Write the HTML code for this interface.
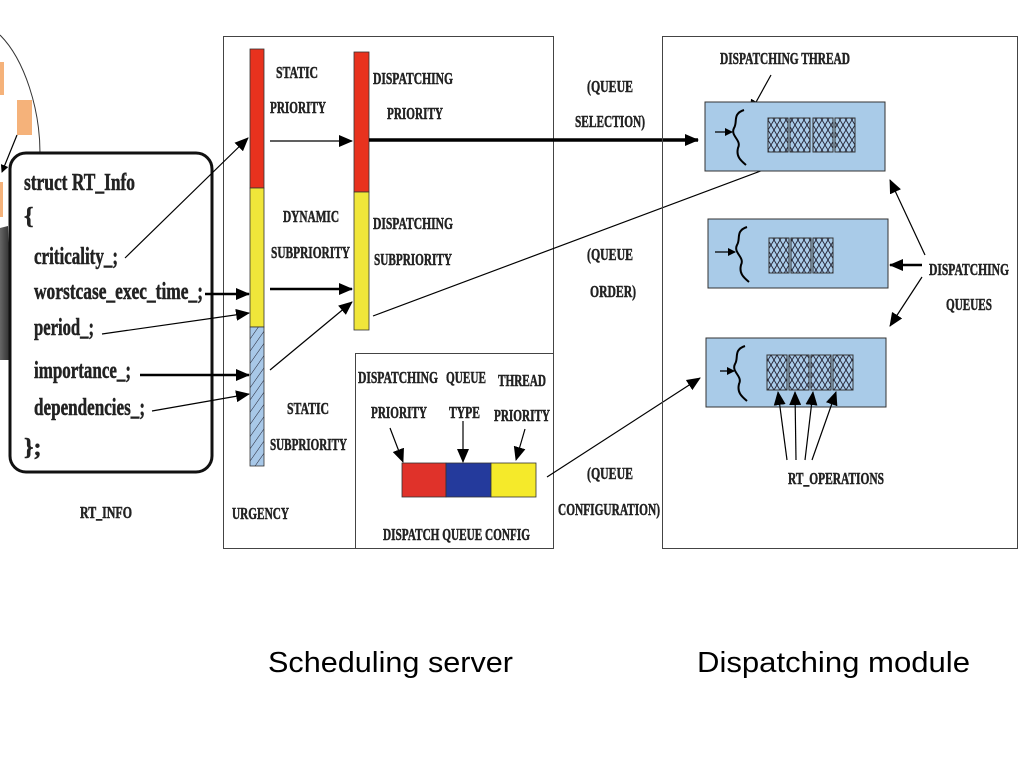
<!DOCTYPE html>
<html><head><meta charset="utf-8"><style>
html,body{margin:0;padding:0;background:#fff;}
svg{display:block;}
.t{font-family:"Liberation Serif",serif;font-weight:bold;fill:#222;stroke:#222;stroke-width:0.5;}
</style></head><body>
<svg width="1024" height="768" viewBox="0 0 1024 768" xmlns="http://www.w3.org/2000/svg">
<defs>
<marker id="a" markerWidth="8" markerHeight="8" refX="7" refY="4" orient="auto" markerUnits="userSpaceOnUse">
<path d="M0,0 L8,4 L0,8 z" fill="#000"/></marker>
<marker id="A" markerWidth="14" markerHeight="12" refX="13" refY="6" orient="auto" markerUnits="userSpaceOnUse">
<path d="M0,0 L14,6 L0,12 z" fill="#000"/></marker>
<pattern id="diag" width="7" height="7" patternUnits="userSpaceOnUse" patternTransform="rotate(35)">
<rect width="7" height="7" fill="#a8c8e8"/><line x1="0" y1="0" x2="0" y2="7" stroke="#223" stroke-width="1"/></pattern>
<pattern id="cross" width="6" height="10" patternUnits="userSpaceOnUse">
<rect width="6" height="10" fill="#a9cbe8"/><path d="M0,0 L6,10 M6,0 L0,10" stroke="#223" stroke-width="0.9"/></pattern>
<linearGradient id="g" x1="0" x2="1"><stop offset="0" stop-color="#666"/><stop offset="1" stop-color="#222"/></linearGradient>
</defs>

<path d="M0,35 C25,60 40,110 40,153" fill="none" stroke="#333" stroke-width="1"/>
<rect x="0" y="62" width="4" height="33" fill="#f5b27a"/>
<rect x="17" y="100" width="15" height="35" fill="#f5b27a"/>
<rect x="0" y="182" width="3" height="35" fill="#f5b27a"/>
<path d="M0,228 L8,226 L12,360 L0,360 z" fill="url(#g)"/>
<line x1="17" y1="135" x2="2" y2="172" stroke="#000" stroke-width="1.2" marker-end="url(#a)"/>

<rect x="10" y="153" width="202" height="319" rx="16" fill="#fff" stroke="#111" stroke-width="3"/>
<text class="t" x="24" y="190" font-size="24" textLength="111" lengthAdjust="spacingAndGlyphs">struct RT_Info</text>
<text class="t" x="24" y="224" font-size="24">{</text>
<text class="t" x="34" y="264" font-size="24" textLength="84" lengthAdjust="spacingAndGlyphs">criticality_;</text>
<text class="t" x="34" y="299" font-size="24" textLength="169" lengthAdjust="spacingAndGlyphs">worstcase_exec_time_;</text>
<text class="t" x="34" y="335" font-size="24" textLength="60" lengthAdjust="spacingAndGlyphs">period_;</text>
<text class="t" x="34" y="378" font-size="24" textLength="97" lengthAdjust="spacingAndGlyphs">importance_;</text>
<text class="t" x="34" y="415" font-size="24" textLength="111" lengthAdjust="spacingAndGlyphs">dependencies_;</text>
<text class="t" x="24" y="455" font-size="24">};</text>
<text class="t" x="80" y="518" font-size="17" textLength="52" lengthAdjust="spacingAndGlyphs">RT_INFO</text>

<rect x="223.5" y="36.5" width="330" height="512" fill="none" stroke="#444" stroke-width="1"/>
<rect x="355.5" y="353.5" width="198" height="195" fill="none" stroke="#444" stroke-width="1"/>
<rect x="250" y="49" width="14" height="139" fill="#e8321e" stroke="#333" stroke-width="0.8"/>
<rect x="250" y="188" width="14" height="139" fill="#f0e63a" stroke="#333" stroke-width="0.8"/>
<rect x="250" y="327" width="14" height="139" fill="url(#diag)" stroke="#333" stroke-width="0.8"/>
<rect x="354" y="52" width="15" height="140" fill="#e8321e" stroke="#333" stroke-width="0.8"/>
<rect x="354" y="192" width="15" height="138" fill="#f0e63a" stroke="#333" stroke-width="0.8"/>

<text class="t" x="276" y="78" font-size="17" textLength="42" lengthAdjust="spacingAndGlyphs">STATIC</text>
<text class="t" x="270" y="113" font-size="17" textLength="56" lengthAdjust="spacingAndGlyphs">PRIORITY</text>
<text class="t" x="373" y="84" font-size="17" textLength="80" lengthAdjust="spacingAndGlyphs">DISPATCHING</text>
<text class="t" x="387" y="119" font-size="17" textLength="56" lengthAdjust="spacingAndGlyphs">PRIORITY</text>
<text class="t" x="283" y="222" font-size="17" textLength="56" lengthAdjust="spacingAndGlyphs">DYNAMIC</text>
<text class="t" x="271" y="258" font-size="17" textLength="79" lengthAdjust="spacingAndGlyphs">SUBPRIORITY</text>
<text class="t" x="373" y="229" font-size="17" textLength="80" lengthAdjust="spacingAndGlyphs">DISPATCHING</text>
<text class="t" x="374" y="265" font-size="17" textLength="78" lengthAdjust="spacingAndGlyphs">SUBPRIORITY</text>
<text class="t" x="287" y="414" font-size="17" textLength="42" lengthAdjust="spacingAndGlyphs">STATIC</text>
<text class="t" x="270" y="450" font-size="17" textLength="77" lengthAdjust="spacingAndGlyphs">SUBPRIORITY</text>
<text class="t" x="232" y="519" font-size="17" textLength="57" lengthAdjust="spacingAndGlyphs">URGENCY</text>

<line x1="125" y1="258" x2="248" y2="138" stroke="#000" stroke-width="1.2" marker-end="url(#A)"/>
<line x1="205" y1="294" x2="249" y2="294" stroke="#000" stroke-width="2.5" marker-end="url(#A)"/>
<line x1="102" y1="334" x2="249" y2="313" stroke="#000" stroke-width="1.2" marker-end="url(#A)"/>
<line x1="140" y1="375" x2="249" y2="375" stroke="#000" stroke-width="2.5" marker-end="url(#A)"/>
<line x1="152" y1="411" x2="249" y2="394" stroke="#000" stroke-width="1.2" marker-end="url(#A)"/>
<line x1="270" y1="141" x2="352" y2="141" stroke="#000" stroke-width="1.3" marker-end="url(#A)"/>
<line x1="270" y1="289" x2="352" y2="289" stroke="#000" stroke-width="2.5" marker-end="url(#A)"/>
<line x1="270" y1="370" x2="352" y2="302" stroke="#000" stroke-width="1.2" marker-end="url(#A)"/>
<line x1="369" y1="140" x2="698" y2="140" stroke="#000" stroke-width="3.5" marker-end="url(#A)"/>
<line x1="373" y1="316" x2="790" y2="160" stroke="#000" stroke-width="1.2" marker-end="url(#A)"/>

<text class="t" x="587" y="92" font-size="17" textLength="46" lengthAdjust="spacingAndGlyphs">(QUEUE</text>
<text class="t" x="575" y="127" font-size="17" textLength="70" lengthAdjust="spacingAndGlyphs">SELECTION)</text>
<text class="t" x="587" y="260" font-size="17" textLength="46" lengthAdjust="spacingAndGlyphs">(QUEUE</text>
<text class="t" x="590" y="297" font-size="17" textLength="46" lengthAdjust="spacingAndGlyphs">ORDER)</text>
<text class="t" x="587" y="479" font-size="17" textLength="46" lengthAdjust="spacingAndGlyphs">(QUEUE</text>
<text class="t" x="558" y="515" font-size="17" textLength="102" lengthAdjust="spacingAndGlyphs">CONFIGURATION)</text>

<text class="t" x="358" y="383" font-size="17" textLength="80" lengthAdjust="spacingAndGlyphs">DISPATCHING</text>
<text class="t" x="371" y="418" font-size="17" textLength="56" lengthAdjust="spacingAndGlyphs">PRIORITY</text>
<text class="t" x="446" y="383" font-size="17" textLength="40" lengthAdjust="spacingAndGlyphs">QUEUE</text>
<text class="t" x="449" y="418" font-size="17" textLength="31" lengthAdjust="spacingAndGlyphs">TYPE</text>
<text class="t" x="498" y="386" font-size="17" textLength="48" lengthAdjust="spacingAndGlyphs">THREAD</text>
<text class="t" x="494" y="421" font-size="17" textLength="56" lengthAdjust="spacingAndGlyphs">PRIORITY</text>
<rect x="402" y="463" width="44" height="34" fill="#e0322a" stroke="#333" stroke-width="0.8"/>
<rect x="446" y="463" width="45" height="34" fill="#243a9c" stroke="#333" stroke-width="0.8"/>
<rect x="491" y="463" width="45" height="34" fill="#f5ea2a" stroke="#333" stroke-width="0.8"/>
<line x1="390" y1="428" x2="403" y2="462" stroke="#000" stroke-width="1.2" marker-end="url(#A)"/>
<line x1="463" y1="421" x2="463" y2="462" stroke="#000" stroke-width="1.2" marker-end="url(#A)"/>
<line x1="525" y1="429" x2="516" y2="460" stroke="#000" stroke-width="1.2" marker-end="url(#A)"/>
<text class="t" x="383" y="540" font-size="17" textLength="147" lengthAdjust="spacingAndGlyphs">DISPATCH QUEUE CONFIG</text>
<line x1="547" y1="477" x2="700" y2="378" stroke="#000" stroke-width="1.2" marker-end="url(#A)"/>

<rect x="662.5" y="36.5" width="355" height="512" fill="none" stroke="#444" stroke-width="1"/>
<text class="t" x="720" y="64" font-size="17" textLength="130" lengthAdjust="spacingAndGlyphs">DISPATCHING THREAD</text>
<line x1="771" y1="75" x2="750" y2="113" stroke="#000" stroke-width="1.2" marker-end="url(#A)"/>

<g stroke="#333" stroke-width="1">
<rect x="705" y="102" width="180" height="69" fill="#a9cbe8"/>
<rect x="708" y="219" width="180" height="69" fill="#a9cbe8"/>
<rect x="706" y="338" width="180" height="69" fill="#a9cbe8"/>
<rect x="768" y="118" width="20" height="34" fill="url(#cross)"/>
<rect x="790" y="118" width="20" height="34" fill="url(#cross)"/>
<rect x="813" y="118" width="20" height="34" fill="url(#cross)"/>
<rect x="835" y="118" width="20" height="34" fill="url(#cross)"/>
<rect x="769" y="238" width="20" height="35" fill="url(#cross)"/>
<rect x="791" y="238" width="20" height="35" fill="url(#cross)"/>
<rect x="813" y="238" width="20" height="35" fill="url(#cross)"/>
<rect x="767" y="355" width="20" height="35" fill="url(#cross)"/>
<rect x="789" y="355" width="20" height="35" fill="url(#cross)"/>
<rect x="811" y="355" width="20" height="35" fill="url(#cross)"/>
<rect x="833" y="355" width="20" height="35" fill="url(#cross)"/>
</g>
<g fill="none" stroke="#000" stroke-width="2">
<path d="M744,110 C732,114 738,122 734,128 C730,136 742,140 738,148 C736,156 740,160 746,165"/>
<path d="M747,227 C735,231 741,239 737,245 C733,253 745,257 741,265 C739,273 743,277 749,282"/>
<path d="M745,346 C733,350 739,358 735,364 C731,372 743,376 739,384 C737,392 741,396 747,401"/>
</g>
<line x1="715" y1="132" x2="732" y2="132" stroke="#000" stroke-width="1.3" marker-end="url(#a)"/>
<line x1="715" y1="252" x2="735" y2="252" stroke="#000" stroke-width="1.3" marker-end="url(#a)"/>
<line x1="720" y1="371" x2="734" y2="371" stroke="#000" stroke-width="1.3" marker-end="url(#a)"/>

<text class="t" x="929" y="275" font-size="17" textLength="80" lengthAdjust="spacingAndGlyphs">DISPATCHING</text>
<text class="t" x="946" y="310" font-size="17" textLength="46" lengthAdjust="spacingAndGlyphs">QUEUES</text>
<line x1="925" y1="255" x2="890" y2="180" stroke="#000" stroke-width="1.2" marker-end="url(#A)"/>
<line x1="922" y1="265" x2="890" y2="265" stroke="#000" stroke-width="2.5" marker-end="url(#A)"/>
<line x1="922" y1="277" x2="890" y2="326" stroke="#000" stroke-width="1.2" marker-end="url(#A)"/>

<text class="t" x="788" y="484" font-size="17" textLength="96" lengthAdjust="spacingAndGlyphs">RT_OPERATIONS</text>
<line x1="787" y1="460" x2="778" y2="392" stroke="#000" stroke-width="1.2" marker-end="url(#A)"/>
<line x1="796" y1="460" x2="795" y2="392" stroke="#000" stroke-width="1.2" marker-end="url(#A)"/>
<line x1="805" y1="460" x2="813" y2="392" stroke="#000" stroke-width="1.2" marker-end="url(#A)"/>
<line x1="812" y1="460" x2="836" y2="392" stroke="#000" stroke-width="1.2" marker-end="url(#A)"/>

<text x="268" y="672" font-family="Liberation Sans, sans-serif" font-size="29" fill="#000" textLength="245" lengthAdjust="spacingAndGlyphs">Scheduling server</text>
<text x="697" y="672" font-family="Liberation Sans, sans-serif" font-size="29" fill="#000" textLength="273" lengthAdjust="spacingAndGlyphs">Dispatching module</text>
</svg>
</body></html>
